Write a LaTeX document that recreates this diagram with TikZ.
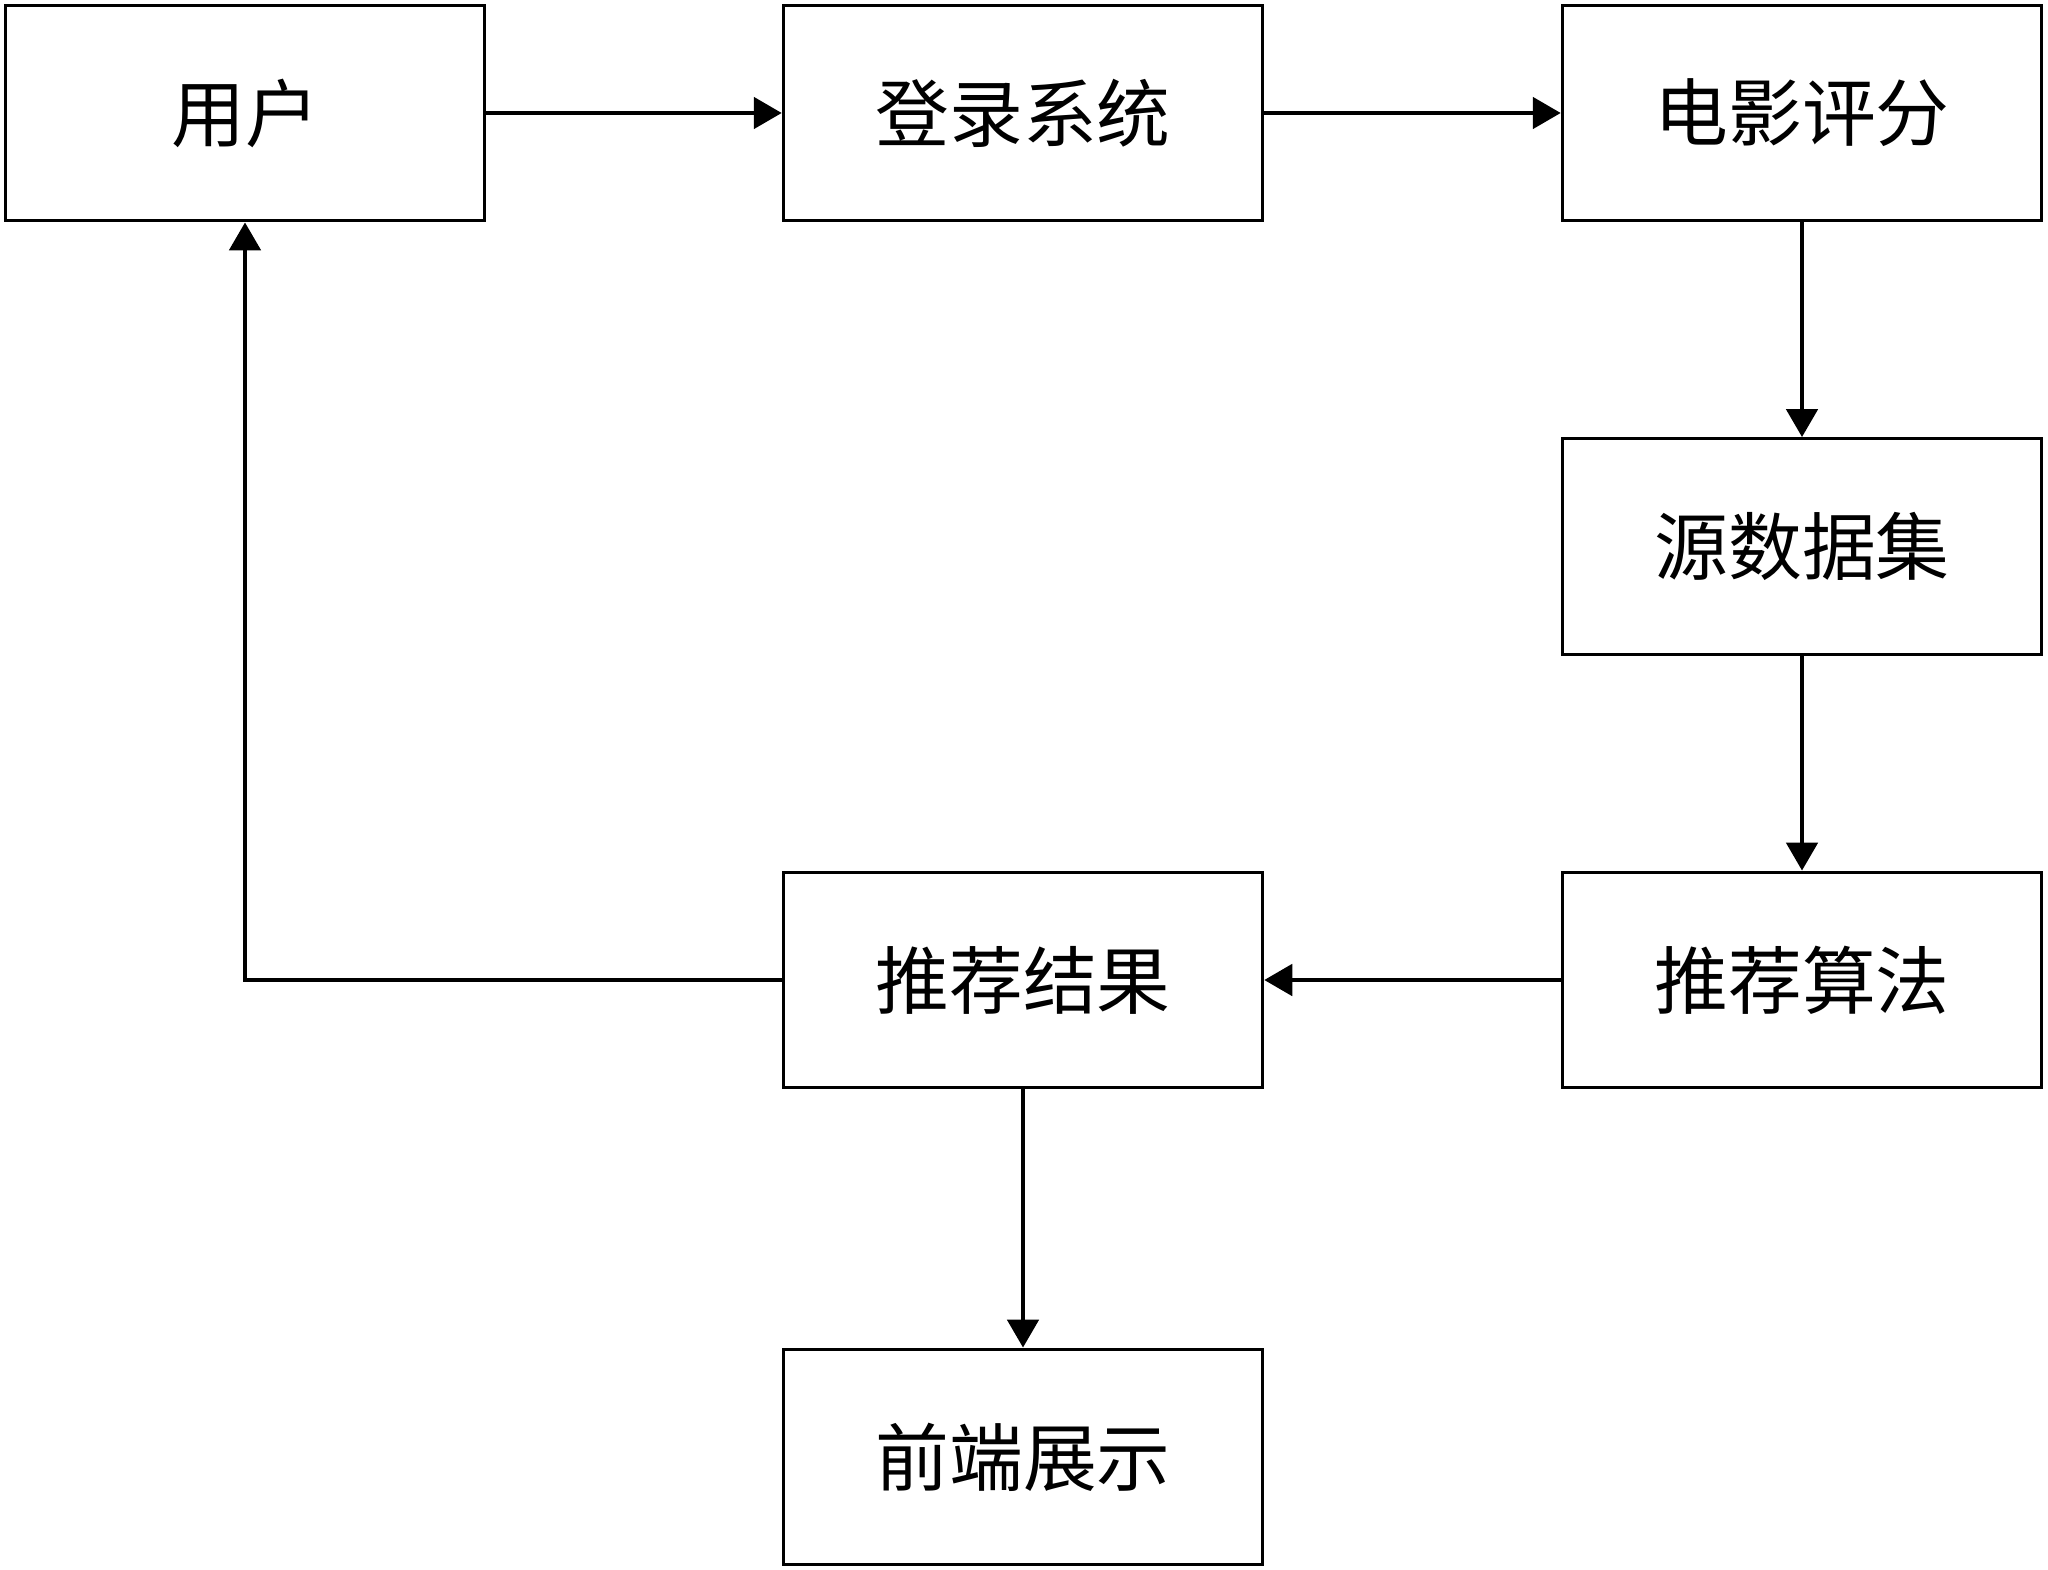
\documentclass[tikz,border=0pt]{standalone}
\usepackage{fontspec}
\newfontfamily\cjk{Noto Sans CJK SC}
\usepackage{tikz}
\usetikzlibrary{arrows.meta,positioning}
\tikzset{
  block/.style = {draw=black, line width=0.9pt, fill=white,
                  minimum width=4.79cm, minimum height=2.155cm,
                  inner sep=0pt, font=\cjk\fontsize{21}{25}\selectfont},
  flow/.style  = {-{Triangle[length=2.8mm, width=3.1mm]}, black, line width=1.4pt},
}

\begin{document}
\begin{tikzpicture}[x=0.01cm, y=-0.01cm]
  \useasboundingbox (0,0) rectangle (2048,1570);
  % top row
  \node[block] (user)    at (245,113)    {用户};
  \node[block] (login)   at (1023,113)   {登录系统};
  \node[block] (rating)  at (1802,113)   {电影评分};
  % right column
  \node[block] (dataset) at (1802,546.5) {源数据集};
  \node[block] (algo)    at (1802,980)   {推荐算法};
  % result and display
  \node[block] (result)  at (1023,980)   {推荐结果};
  \node[block] (front)   at (1023,1457)  {前端展示};

  \draw[flow] (user) -- (login);
  \draw[flow] (login) -- (rating);
  \draw[flow] (rating) -- (dataset);
  \draw[flow] (dataset) -- (algo);
  \draw[flow] (algo) -- (result);
  \draw[flow] (result.west) -| (user.south);
  \draw[flow] (result) -- (front);
\end{tikzpicture}
\end{document}
